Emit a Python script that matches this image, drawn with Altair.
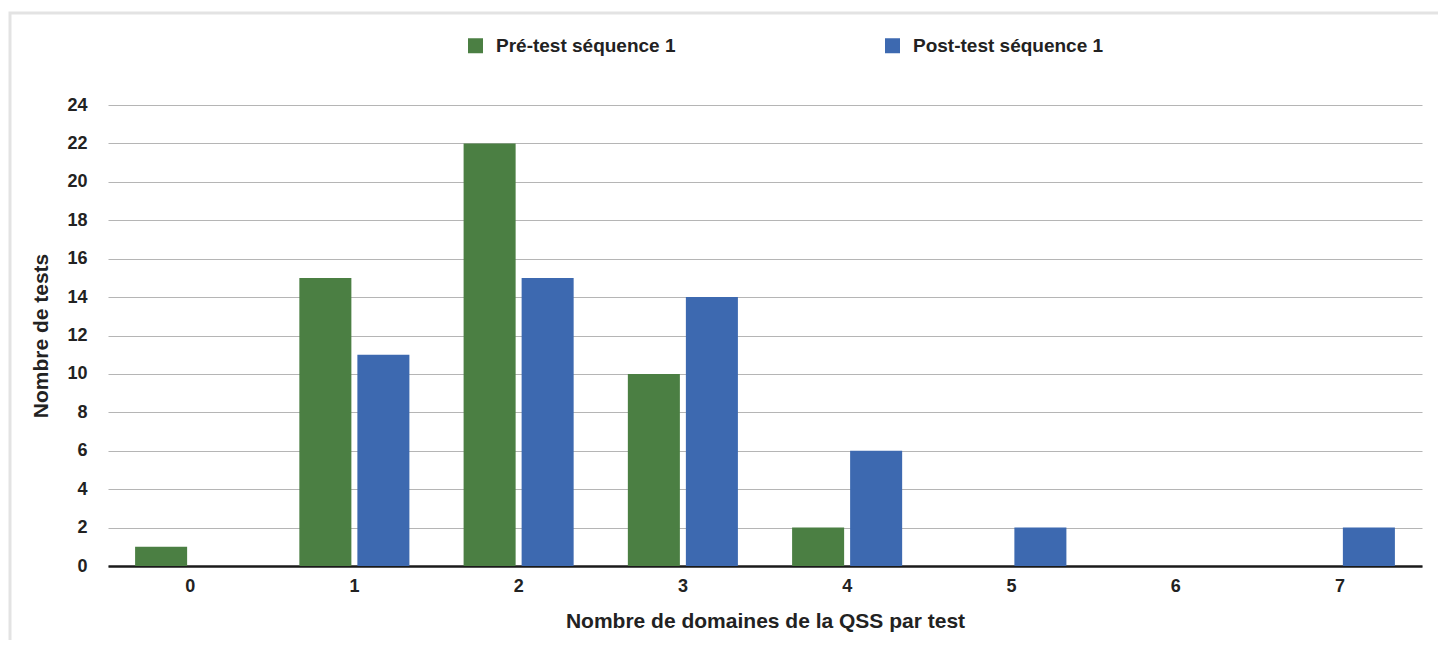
import altair as alt
import pandas as pd

categories = ["0", "1", "2", "3", "4", "5", "6", "7"]
pre_test = [1, 15, 22, 10, 2, 0, 0, 0]
post_test = [0, 11, 15, 14, 6, 2, 0, 2]
series = ["Pré-test séquence 1", "Post-test séquence 1"]
colors = ["#4B7F43", "#3D69B0"]
y_ticks = [0, 2, 4, 6, 8, 10, 12, 14, 16, 18, 20, 22, 24]

rows = []
for c, a, b in zip(categories, pre_test, post_test):
    rows.append({"cat": c, "serie": series[0], "val": a})
    rows.append({"cat": c, "serie": series[1], "val": b})
df = pd.DataFrame(rows)

FONT = "Liberation Sans"

bars = alt.Chart(df).mark_bar().encode(
    x=alt.X(
        "cat:N",
        sort=categories,
        scale=alt.Scale(paddingInner=0.33, paddingOuter=0.165),
        axis=alt.Axis(
            title="Nombre de domaines de la QSS par test",
            labelAngle=0,
            grid=False,
            ticks=False,
            domain=True,
            domainColor="#1a1a1a",
            domainWidth=2.5,
            labelFont=FONT,
            labelFontSize=18,
            labelFontWeight="bold",
            labelColor="#222222",
            labelPadding=11,
            titleFont=FONT,
            titleFontSize=21,
            titleFontWeight="bold",
            titleColor="#222222",
            titleY=61,
            titleBaseline="alphabetic",
        ),
    ),
    xOffset=alt.XOffset(
        "serie:N",
        sort=series,
        scale=alt.Scale(paddingInner=0.1034, paddingOuter=0),
    ),
    y=alt.Y(
        "val:Q",
        scale=alt.Scale(domain=[0, 24], nice=False),
        axis=alt.Axis(
            title="Nombre de tests",
            values=y_ticks,
            grid=True,
            gridColor="#b5b5b5",
            gridWidth=1,
            domain=False,
            ticks=False,
            labelFont=FONT,
            labelFontSize=18,
            labelFontWeight="bold",
            labelColor="#222222",
            labelPadding=21,
            titleFont=FONT,
            titleFontSize=21,
            titleFontWeight="bold",
            titleColor="#222222",
            titleX=-61,
            titleY=230.5,
            titleAngle=-90,
            titleAlign="center",
            titleBaseline="alphabetic",
        ),
    ),
    color=alt.Color(
        "serie:N",
        sort=series,
        scale=alt.Scale(domain=series, range=colors),
        legend=alt.Legend(
            title=None,
            orient="none",
            legendX=358,
            legendY=-69,
            direction="horizontal",
            symbolType="square",
            symbolSize=225,
            symbolStrokeWidth=0,
            labelFont=FONT,
            labelFontSize=19,
            labelFontWeight="bold",
            labelColor="#222222",
            labelOffset=11,
            labelLimit=500,
            columnPadding=207,
        ),
    ),
)

frame = alt.Chart(pd.DataFrame({"k": [0]})).mark_rect(
    fill=None, stroke="#e3e3e3", strokeWidth=3
).encode(
    x=alt.value(-98), x2=alt.value(1400), y=alt.value(-92), y2=alt.value(600)
)

chart = alt.layer(frame, bars).properties(
    width=1314,
    height=461,
    autosize=alt.AutoSizeParams(type="none"),
    padding={"left": 100, "top": 97, "right": 16, "bottom": 74},
).configure_view(stroke=None)

chart.save("out.html", embed_options={"renderer": "svg", "actions": False})
